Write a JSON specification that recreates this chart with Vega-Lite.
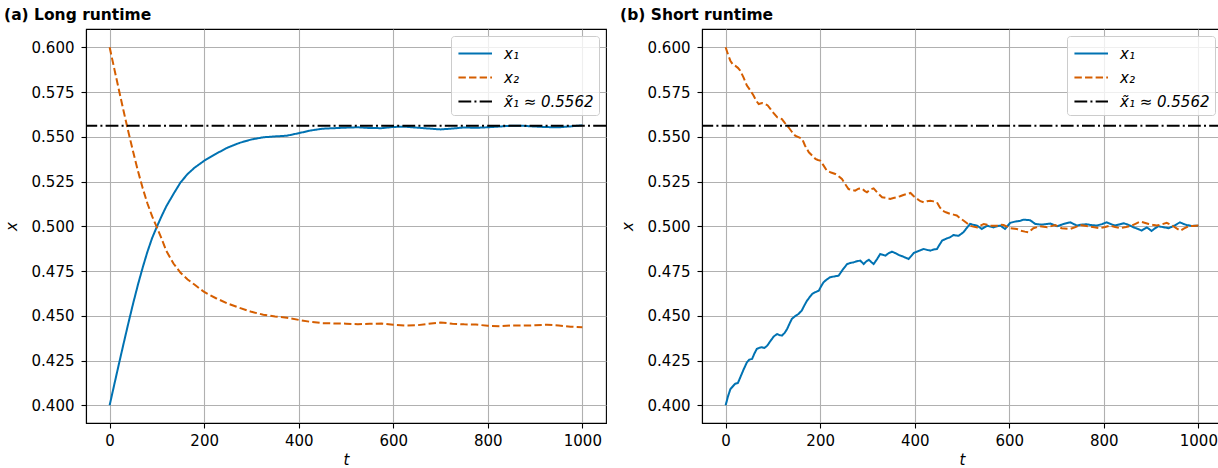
{
  "$schema": "https://vega.github.io/schema/vega-lite/v6.json",
  "padding": {"left": 3, "top": 6, "right": 0, "bottom": 0},
  "config": {
    "font": "DejaVu Sans",
    "view": {"stroke": "black", "strokeWidth": 1.1},
    "concat": {"spacing": 11},
    "title": {"font": "DejaVu Sans", "fontSize": 15.5, "fontWeight": "bold", "anchor": "start", "offset": 6, "color": "black"},
    "axis": {
      "grid": true, "gridColor": "#b0b0b0", "gridWidth": 1.1,
      "labelFont": "DejaVu Sans", "labelFontSize": 15, "labelColor": "black",
      "titleFont": "DejaVu Sans", "titleFontSize": 15, "titleFontStyle": "italic", "titleFontWeight": "normal", "titleColor": "black",
      "tickColor": "black", "tickSize": 5, "tickWidth": 1.1,
      "domainColor": "black", "domainWidth": 1.1
    },
    "axisX": {"labelPadding": 5, "titlePadding": 4},
    "axisY": {"labelPadding": 7, "titlePadding": 12},
    "legend": {
      "orient": "top-right", "offset": 7, "title": null,
      "fillColor": "rgba(255,255,255,0.8)", "strokeColor": "#cccccc", "cornerRadius": 3, "padding": 5,
      "labelFont": "DejaVu Sans", "labelFontSize": 15, "labelFontStyle": "italic", "labelColor": "black", "labelOffset": 23,
      "symbolType": "M-0.9,0H2.1", "symbolSize": 500, "symbolStrokeWidth": 2, "rowPadding": 3
    }
  },
  "datasets": {
    "ref": [{"s": "x̃₁ ≈ 0.5562", "x": 0.5562}],
    "long": [
      {"t":0,"s":"x₁","x":0.4000},{"t":10,"s":"x₁","x":0.4118},{"t":20,"s":"x₁","x":0.4235},{"t":30,"s":"x₁","x":0.4350},{"t":40,"s":"x₁","x":0.4463},{"t":50,"s":"x₁","x":0.4572},{"t":60,"s":"x₁","x":0.4675},{"t":70,"s":"x₁","x":0.4770},{"t":80,"s":"x₁","x":0.4858},{"t":90,"s":"x₁","x":0.4935},{"t":100,"s":"x₁","x":0.4998},{"t":110,"s":"x₁","x":0.5057},{"t":120,"s":"x₁","x":0.5112},{"t":135,"s":"x₁","x":0.5180},{"t":150,"s":"x₁","x":0.5245},{"t":165,"s":"x₁","x":0.5292},{"t":180,"s":"x₁","x":0.5328},{"t":200,"s":"x₁","x":0.5366},{"t":225,"s":"x₁","x":0.5405},{"t":250,"s":"x₁","x":0.5440},{"t":275,"s":"x₁","x":0.5466},{"t":300,"s":"x₁","x":0.5485},{"t":325,"s":"x₁","x":0.5497},{"t":350,"s":"x₁","x":0.5502},{"t":375,"s":"x₁","x":0.5506},{"t":400,"s":"x₁","x":0.5520},{"t":425,"s":"x₁","x":0.5535},{"t":450,"s":"x₁","x":0.5545},{"t":475,"s":"x₁","x":0.5548},{"t":500,"s":"x₁","x":0.5551},{"t":525,"s":"x₁","x":0.5553},{"t":550,"s":"x₁","x":0.5549},{"t":575,"s":"x₁","x":0.5548},{"t":600,"s":"x₁","x":0.5555},{"t":625,"s":"x₁","x":0.5556},{"t":650,"s":"x₁","x":0.5551},{"t":675,"s":"x₁","x":0.5546},{"t":700,"s":"x₁","x":0.5541},{"t":725,"s":"x₁","x":0.5546},{"t":750,"s":"x₁","x":0.5552},{"t":775,"s":"x₁","x":0.5550},{"t":800,"s":"x₁","x":0.5553},{"t":825,"s":"x₁","x":0.5557},{"t":850,"s":"x₁","x":0.5562},{"t":875,"s":"x₁","x":0.5561},{"t":900,"s":"x₁","x":0.5557},{"t":925,"s":"x₁","x":0.5554},{"t":950,"s":"x₁","x":0.5553},{"t":975,"s":"x₁","x":0.5558},{"t":1000,"s":"x₁","x":0.5564},
      {"t":0,"s":"x₂","x":0.6000},{"t":10,"s":"x₂","x":0.5878},{"t":20,"s":"x₂","x":0.5757},{"t":30,"s":"x₂","x":0.5638},{"t":40,"s":"x₂","x":0.5523},{"t":50,"s":"x₂","x":0.5413},{"t":60,"s":"x₂","x":0.5308},{"t":70,"s":"x₂","x":0.5212},{"t":80,"s":"x₂","x":0.5127},{"t":90,"s":"x₂","x":0.5055},{"t":100,"s":"x₂","x":0.4994},{"t":110,"s":"x₂","x":0.4930},{"t":120,"s":"x₂","x":0.4862},{"t":135,"s":"x₂","x":0.4792},{"t":150,"s":"x₂","x":0.4740},{"t":165,"s":"x₂","x":0.4703},{"t":180,"s":"x₂","x":0.4673},{"t":200,"s":"x₂","x":0.4633},{"t":225,"s":"x₂","x":0.4598},{"t":250,"s":"x₂","x":0.4568},{"t":275,"s":"x₂","x":0.4544},{"t":300,"s":"x₂","x":0.4522},{"t":325,"s":"x₂","x":0.4506},{"t":350,"s":"x₂","x":0.4496},{"t":375,"s":"x₂","x":0.4489},{"t":400,"s":"x₂","x":0.4477},{"t":425,"s":"x₂","x":0.4466},{"t":450,"s":"x₂","x":0.4459},{"t":475,"s":"x₂","x":0.4457},{"t":500,"s":"x₂","x":0.4456},{"t":525,"s":"x₂","x":0.4453},{"t":550,"s":"x₂","x":0.4455},{"t":575,"s":"x₂","x":0.4457},{"t":600,"s":"x₂","x":0.4450},{"t":625,"s":"x₂","x":0.4446},{"t":650,"s":"x₂","x":0.4447},{"t":675,"s":"x₂","x":0.4455},{"t":700,"s":"x₂","x":0.4462},{"t":725,"s":"x₂","x":0.4456},{"t":750,"s":"x₂","x":0.4452},{"t":775,"s":"x₂","x":0.4451},{"t":800,"s":"x₂","x":0.4444},{"t":825,"s":"x₂","x":0.4442},{"t":850,"s":"x₂","x":0.4446},{"t":875,"s":"x₂","x":0.4445},{"t":900,"s":"x₂","x":0.4447},{"t":925,"s":"x₂","x":0.4450},{"t":950,"s":"x₂","x":0.4446},{"t":975,"s":"x₂","x":0.4439},{"t":1000,"s":"x₂","x":0.4436}
    ],
    "short": [
      {"t":0,"s":"x₁","x":0.4000},{"t":5,"s":"x₁","x":0.4050},{"t":10,"s":"x₁","x":0.4090},{"t":15,"s":"x₁","x":0.4105},{"t":20,"s":"x₁","x":0.4120},{"t":26,"s":"x₁","x":0.4125},{"t":31,"s":"x₁","x":0.4156},{"t":38,"s":"x₁","x":0.4200},{"t":45,"s":"x₁","x":0.4240},{"t":50,"s":"x₁","x":0.4255},{"t":56,"s":"x₁","x":0.4259},{"t":61,"s":"x₁","x":0.4290},{"t":66,"s":"x₁","x":0.4315},{"t":72,"s":"x₁","x":0.4322},{"t":77,"s":"x₁","x":0.4324},{"t":82,"s":"x₁","x":0.4320},{"t":88,"s":"x₁","x":0.4333},{"t":95,"s":"x₁","x":0.4360},{"t":102,"s":"x₁","x":0.4385},{"t":109,"s":"x₁","x":0.4398},{"t":114,"s":"x₁","x":0.4392},{"t":119,"s":"x₁","x":0.4389},{"t":125,"s":"x₁","x":0.4405},{"t":130,"s":"x₁","x":0.4426},{"t":135,"s":"x₁","x":0.4455},{"t":140,"s":"x₁","x":0.4482},{"t":147,"s":"x₁","x":0.4498},{"t":154,"s":"x₁","x":0.4510},{"t":161,"s":"x₁","x":0.4529},{"t":167,"s":"x₁","x":0.4560},{"t":172,"s":"x₁","x":0.4584},{"t":178,"s":"x₁","x":0.4605},{"t":183,"s":"x₁","x":0.4622},{"t":190,"s":"x₁","x":0.4632},{"t":197,"s":"x₁","x":0.4640},{"t":202,"s":"x₁","x":0.4665},{"t":207,"s":"x₁","x":0.4687},{"t":214,"s":"x₁","x":0.4703},{"t":221,"s":"x₁","x":0.4715},{"t":230,"s":"x₁","x":0.4720},{"t":239,"s":"x₁","x":0.4724},{"t":247,"s":"x₁","x":0.4755},{"t":257,"s":"x₁","x":0.4789},{"t":264,"s":"x₁","x":0.4795},{"t":271,"s":"x₁","x":0.4799},{"t":278,"s":"x₁","x":0.4805},{"t":285,"s":"x₁","x":0.4808},{"t":292,"s":"x₁","x":0.4789},{"t":298,"s":"x₁","x":0.4805},{"t":303,"s":"x₁","x":0.4813},{"t":308,"s":"x₁","x":0.4800},{"t":313,"s":"x₁","x":0.4789},{"t":320,"s":"x₁","x":0.4815},{"t":327,"s":"x₁","x":0.4845},{"t":333,"s":"x₁","x":0.4840},{"t":338,"s":"x₁","x":0.4836},{"t":345,"s":"x₁","x":0.4850},{"t":352,"s":"x₁","x":0.4858},{"t":359,"s":"x₁","x":0.4850},{"t":366,"s":"x₁","x":0.4840},{"t":376,"s":"x₁","x":0.4830},{"t":387,"s":"x₁","x":0.4817},{"t":393,"s":"x₁","x":0.4835},{"t":398,"s":"x₁","x":0.4851},{"t":408,"s":"x₁","x":0.4862},{"t":419,"s":"x₁","x":0.4873},{"t":426,"s":"x₁","x":0.4868},{"t":433,"s":"x₁","x":0.4864},{"t":440,"s":"x₁","x":0.4870},{"t":447,"s":"x₁","x":0.4873},{"t":452,"s":"x₁","x":0.4895},{"t":458,"s":"x₁","x":0.4920},{"t":466,"s":"x₁","x":0.4930},{"t":475,"s":"x₁","x":0.4939},{"t":482,"s":"x₁","x":0.4951},{"t":488,"s":"x₁","x":0.4948},{"t":493,"s":"x₁","x":0.4947},{"t":503,"s":"x₁","x":0.4967},{"t":510,"s":"x₁","x":0.4990},{"t":517,"s":"x₁","x":0.5013},{"t":524,"s":"x₁","x":0.5008},{"t":532,"s":"x₁","x":0.5003},{"t":542,"s":"x₁","x":0.4985},{"t":553,"s":"x₁","x":0.5003},{"t":560,"s":"x₁","x":0.4998},{"t":567,"s":"x₁","x":0.4994},{"t":574,"s":"x₁","x":0.5000},{"t":581,"s":"x₁","x":0.5004},{"t":591,"s":"x₁","x":0.4985},{"t":602,"s":"x₁","x":0.5019},{"t":612,"s":"x₁","x":0.5026},{"t":623,"s":"x₁","x":0.5030},{"t":630,"s":"x₁","x":0.5037},{"t":644,"s":"x₁","x":0.5034},{"t":655,"s":"x₁","x":0.5013},{"t":669,"s":"x₁","x":0.5009},{"t":687,"s":"x₁","x":0.5015},{"t":701,"s":"x₁","x":0.5000},{"t":715,"s":"x₁","x":0.5013},{"t":729,"s":"x₁","x":0.5022},{"t":743,"s":"x₁","x":0.5004},{"t":754,"s":"x₁","x":0.5010},{"t":764,"s":"x₁","x":0.5011},{"t":775,"s":"x₁","x":0.5006},{"t":785,"s":"x₁","x":0.5004},{"t":796,"s":"x₁","x":0.5012},{"t":806,"s":"x₁","x":0.5022},{"t":815,"s":"x₁","x":0.5012},{"t":824,"s":"x₁","x":0.5004},{"t":833,"s":"x₁","x":0.5010},{"t":842,"s":"x₁","x":0.5017},{"t":852,"s":"x₁","x":0.5008},{"t":863,"s":"x₁","x":0.4994},{"t":872,"s":"x₁","x":0.4985},{"t":880,"s":"x₁","x":0.4976},{"t":891,"s":"x₁","x":0.4994},{"t":901,"s":"x₁","x":0.4974},{"t":908,"s":"x₁","x":0.4988},{"t":915,"s":"x₁","x":0.5000},{"t":926,"s":"x₁","x":0.4995},{"t":937,"s":"x₁","x":0.4989},{"t":950,"s":"x₁","x":0.5005},{"t":961,"s":"x₁","x":0.5022},{"t":968,"s":"x₁","x":0.5014},{"t":975,"s":"x₁","x":0.5007},{"t":986,"s":"x₁","x":0.5002},{"t":1000,"s":"x₁","x":0.5003},
      {"t":0,"s":"x₂","x":0.6000},{"t":5,"s":"x₂","x":0.5960},{"t":10,"s":"x₂","x":0.5925},{"t":15,"s":"x₂","x":0.5905},{"t":20,"s":"x₂","x":0.5897},{"t":26,"s":"x₂","x":0.5885},{"t":31,"s":"x₂","x":0.5869},{"t":38,"s":"x₂","x":0.5830},{"t":45,"s":"x₂","x":0.5786},{"t":52,"s":"x₂","x":0.5760},{"t":59,"s":"x₂","x":0.5730},{"t":65,"s":"x₂","x":0.5700},{"t":70,"s":"x₂","x":0.5683},{"t":77,"s":"x₂","x":0.5688},{"t":84,"s":"x₂","x":0.5683},{"t":89,"s":"x₂","x":0.5675},{"t":95,"s":"x₂","x":0.5655},{"t":102,"s":"x₂","x":0.5630},{"t":109,"s":"x₂","x":0.5609},{"t":114,"s":"x₂","x":0.5604},{"t":119,"s":"x₂","x":0.5599},{"t":126,"s":"x₂","x":0.5575},{"t":133,"s":"x₂","x":0.5553},{"t":140,"s":"x₂","x":0.5528},{"t":147,"s":"x₂","x":0.5506},{"t":154,"s":"x₂","x":0.5498},{"t":162,"s":"x₂","x":0.5488},{"t":168,"s":"x₂","x":0.5450},{"t":176,"s":"x₂","x":0.5413},{"t":183,"s":"x₂","x":0.5395},{"t":190,"s":"x₂","x":0.5376},{"t":195,"s":"x₂","x":0.5370},{"t":200,"s":"x₂","x":0.5367},{"t":207,"s":"x₂","x":0.5340},{"t":214,"s":"x₂","x":0.5311},{"t":223,"s":"x₂","x":0.5300},{"t":232,"s":"x₂","x":0.5292},{"t":239,"s":"x₂","x":0.5280},{"t":246,"s":"x₂","x":0.5264},{"t":253,"s":"x₂","x":0.5235},{"t":260,"s":"x₂","x":0.5208},{"t":267,"s":"x₂","x":0.5203},{"t":274,"s":"x₂","x":0.5199},{"t":281,"s":"x₂","x":0.5210},{"t":288,"s":"x₂","x":0.5212},{"t":294,"s":"x₂","x":0.5198},{"t":299,"s":"x₂","x":0.5190},{"t":306,"s":"x₂","x":0.5205},{"t":313,"s":"x₂","x":0.5212},{"t":322,"s":"x₂","x":0.5185},{"t":331,"s":"x₂","x":0.5162},{"t":340,"s":"x₂","x":0.5158},{"t":348,"s":"x₂","x":0.5153},{"t":355,"s":"x₂","x":0.5158},{"t":362,"s":"x₂","x":0.5162},{"t":369,"s":"x₂","x":0.5168},{"t":376,"s":"x₂","x":0.5175},{"t":383,"s":"x₂","x":0.5180},{"t":391,"s":"x₂","x":0.5186},{"t":398,"s":"x₂","x":0.5168},{"t":405,"s":"x₂","x":0.5153},{"t":412,"s":"x₂","x":0.5140},{"t":419,"s":"x₂","x":0.5134},{"t":426,"s":"x₂","x":0.5140},{"t":433,"s":"x₂","x":0.5143},{"t":440,"s":"x₂","x":0.5139},{"t":447,"s":"x₂","x":0.5134},{"t":452,"s":"x₂","x":0.5110},{"t":458,"s":"x₂","x":0.5088},{"t":466,"s":"x₂","x":0.5078},{"t":475,"s":"x₂","x":0.5069},{"t":482,"s":"x₂","x":0.5065},{"t":489,"s":"x₂","x":0.5060},{"t":496,"s":"x₂","x":0.5045},{"t":503,"s":"x₂","x":0.5032},{"t":510,"s":"x₂","x":0.5018},{"t":517,"s":"x₂","x":0.5003},{"t":524,"s":"x₂","x":0.4998},{"t":532,"s":"x₂","x":0.4994},{"t":539,"s":"x₂","x":0.5004},{"t":546,"s":"x₂","x":0.5013},{"t":553,"s":"x₂","x":0.5008},{"t":560,"s":"x₂","x":0.5003},{"t":567,"s":"x₂","x":0.5003},{"t":574,"s":"x₂","x":0.5003},{"t":581,"s":"x₂","x":0.5009},{"t":588,"s":"x₂","x":0.5007},{"t":595,"s":"x₂","x":0.4998},{"t":602,"s":"x₂","x":0.4989},{"t":616,"s":"x₂","x":0.4985},{"t":623,"s":"x₂","x":0.4976},{"t":633,"s":"x₂","x":0.4970},{"t":641,"s":"x₂","x":0.4966},{"t":651,"s":"x₂","x":0.4989},{"t":665,"s":"x₂","x":0.5000},{"t":680,"s":"x₂","x":0.4994},{"t":697,"s":"x₂","x":0.5007},{"t":711,"s":"x₂","x":0.4989},{"t":729,"s":"x₂","x":0.4985},{"t":740,"s":"x₂","x":0.4995},{"t":750,"s":"x₂","x":0.5007},{"t":768,"s":"x₂","x":0.5000},{"t":780,"s":"x₂","x":0.4994},{"t":792,"s":"x₂","x":0.4989},{"t":803,"s":"x₂","x":0.4996},{"t":813,"s":"x₂","x":0.5004},{"t":824,"s":"x₂","x":0.4996},{"t":835,"s":"x₂","x":0.4989},{"t":847,"s":"x₂","x":0.4996},{"t":859,"s":"x₂","x":0.5004},{"t":868,"s":"x₂","x":0.5015},{"t":877,"s":"x₂","x":0.5026},{"t":886,"s":"x₂","x":0.5020},{"t":895,"s":"x₂","x":0.5013},{"t":903,"s":"x₂","x":0.5008},{"t":912,"s":"x₂","x":0.5004},{"t":922,"s":"x₂","x":0.5010},{"t":933,"s":"x₂","x":0.5019},{"t":940,"s":"x₂","x":0.5010},{"t":947,"s":"x₂","x":0.5000},{"t":954,"s":"x₂","x":0.4988},{"t":962,"s":"x₂","x":0.4976},{"t":970,"s":"x₂","x":0.4988},{"t":979,"s":"x₂","x":0.5000},{"t":990,"s":"x₂","x":0.5002},{"t":1000,"s":"x₂","x":0.5004}
    ]
  },
  "hconcat": [
    {
      "width": 520, "height": 394,
      "title": {"text": "(a) Long runtime"},
      "layer": [
        {
          "data": {"name": "long"},
          "mark": {"type": "line", "strokeWidth": 2},
          "encoding": {
            "x": {"field": "t", "type": "quantitative", "scale": {"domain": [-50, 1050], "nice": false, "zero": false}, "axis": {"values": [0, 200, 400, 600, 800, 1000], "format": "d", "title": "t"}},
            "y": {"field": "x", "type": "quantitative", "scale": {"domain": [0.3901, 0.6102], "nice": false, "zero": false}, "axis": {"values": [0.4, 0.425, 0.45, 0.475, 0.5, 0.525, 0.55, 0.575, 0.6], "format": ".3f", "title": "x"}},
            "color": {"field": "s", "type": "nominal", "scale": {"domain": ["x₁", "x₂", "x̃₁ ≈ 0.5562"], "range": ["#0072B2", "#D55E00", "black"]}},
            "strokeDash": {"field": "s", "type": "nominal", "scale": {"domain": ["x₁", "x₂", "x̃₁ ≈ 0.5562"], "range": [[1, 0], [7.4, 3.2], [12.8, 3.2, 2, 3.2]]}}
          }
        },
        {
          "data": {"name": "ref"},
          "mark": {"type": "rule", "strokeWidth": 2},
          "encoding": {
            "y": {"field": "x", "type": "quantitative"},
            "color": {"field": "s", "type": "nominal"},
            "strokeDash": {"field": "s", "type": "nominal"}
          }
        }
      ]
    },
    {
      "width": 520, "height": 394,
      "title": {"text": "(b) Short runtime"},
      "layer": [
        {
          "data": {"name": "short"},
          "mark": {"type": "line", "strokeWidth": 2},
          "encoding": {
            "x": {"field": "t", "type": "quantitative", "scale": {"domain": [-50, 1050], "nice": false, "zero": false}, "axis": {"values": [0, 200, 400, 600, 800, 1000], "format": "d", "title": "t"}},
            "y": {"field": "x", "type": "quantitative", "scale": {"domain": [0.3901, 0.6102], "nice": false, "zero": false}, "axis": {"values": [0.4, 0.425, 0.45, 0.475, 0.5, 0.525, 0.55, 0.575, 0.6], "format": ".3f", "title": "x"}},
            "color": {"field": "s", "type": "nominal", "scale": {"domain": ["x₁", "x₂", "x̃₁ ≈ 0.5562"], "range": ["#0072B2", "#D55E00", "black"]}},
            "strokeDash": {"field": "s", "type": "nominal", "scale": {"domain": ["x₁", "x₂", "x̃₁ ≈ 0.5562"], "range": [[1, 0], [7.4, 3.2], [12.8, 3.2, 2, 3.2]]}}
          }
        },
        {
          "data": {"name": "ref"},
          "mark": {"type": "rule", "strokeWidth": 2},
          "encoding": {
            "y": {"field": "x", "type": "quantitative"},
            "color": {"field": "s", "type": "nominal"},
            "strokeDash": {"field": "s", "type": "nominal"}
          }
        }
      ]
    }
  ],
  "resolve": {
    "scale": {"color": "independent", "strokeDash": "independent"},
    "legend": {"color": "independent", "strokeDash": "independent"}
  }
}
